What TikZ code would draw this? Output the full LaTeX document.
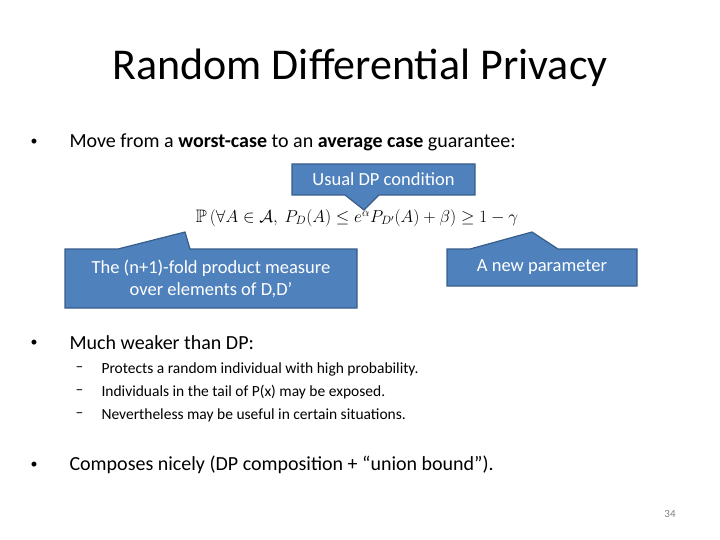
\documentclass[tikz,border=0pt]{standalone}
\usepackage{amsmath}
\usepackage{amssymb}
\usepackage{fontspec}
\setmainfont{Carlito}
\definecolor{calloutfill}{HTML}{4F81BD}
\definecolor{calloutdraw}{HTML}{385D8A}
\tikzset{
  callout/.style={fill=calloutfill, draw=calloutdraw, line width=1.2pt},
  calltext/.style={text=white, font=\fontsize{18.5}{22}\selectfont, align=center},
  bullet/.style={anchor=west, font=\fontsize{20}{24}\selectfont},
  bulletdot/.style={font=\fontsize{14}{16}\selectfont},
  subbullet/.style={anchor=west, font=\fontsize{15.5}{18}\selectfont},
}
\begin{document}
\begin{tikzpicture}[x=1pt,y=-1pt]
    \useasboundingbox (0,0) rectangle (720,540);
    \node (title) at (360,68) {\fontsize{44}{50}\selectfont Random Differential Privacy};
    % first bullet and formula
    \node[bulletdot] (b1dot) at (34,142) {\textbullet};
    \node[bullet] (b1) at (66,142) {Move from a \textbf{worst-case} to an \textbf{average case} guarantee:};
    \node (formula) at (357,218) {\fontsize{18}{21}\selectfont
      $\mathbb{P}\left(\forall A\in\mathcal{A},\ P_D(A)\le e^{\alpha}P_{D'}(A)+\beta\right)\ge 1-\gamma$};
    % callouts
    \fill[callout] (292,164) -- (475,164) -- (475,195) -- (379,195) -- (364,210)
      -- (345,195) -- (292,195) -- cycle;
    \node[calltext] (usual) at (383.5,179.5) {Usual DP condition};
    \fill[callout] (65,249) -- (118,249) -- (185,232) -- (190,249) -- (357,249)
      -- (357,308) -- (65,308) -- cycle;
    \node[calltext] (product) at (211,278.5) {The (n+1)-fold product measure\\over elements of D,D’};
    \fill[callout] (447,249) -- (470,249) -- (532,232) -- (558,249) -- (637,249)
      -- (637,286) -- (447,286) -- cycle;
    \node[calltext] (newpar) at (542,267.5) {A new parameter};
    % second bullet
    \node[bulletdot] (b2dot) at (34,343) {\textbullet};
    \node[bullet] (b2) at (66,343) {Much weaker than DP:};
    \foreach \t [count=\i] in {Protects a random individual with high probability.,
      Individuals in the tail of P(x) may be exposed.,
      Nevertheless may be useful in certain situations.}{
      \node[subbullet] (s\i dash) at (72,{346+23*\i}) {–};
      \node[subbullet] (s\i) at (98,{346+23*\i}) {\t};
    }
    % third bullet
    \node[bulletdot] (b3dot) at (34,465) {\textbullet};
    \node[bullet] (b3) at (66,465) {Composes nicely (DP composition + “union bound”).};
    \node[text=gray, font=\fontsize{11}{13}\selectfont] (page) at (670,514) {34};
\end{tikzpicture}
\end{document}
